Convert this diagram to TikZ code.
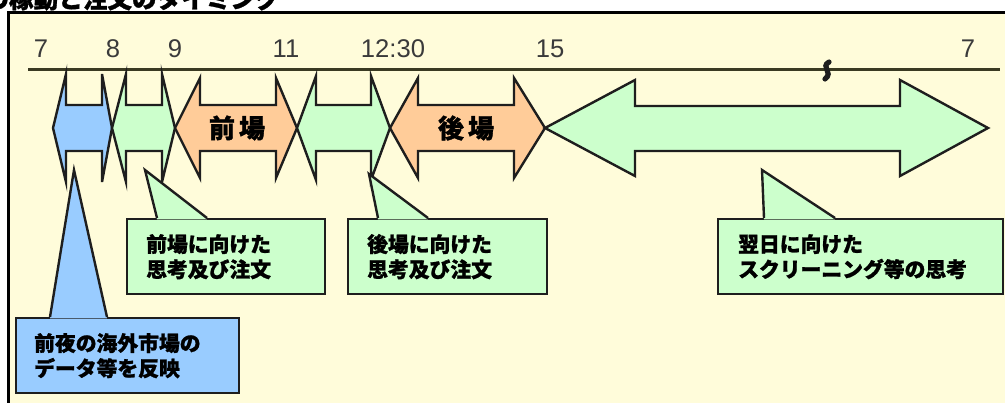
\documentclass[tikz,border=0pt]{standalone}
\usepackage{fontspec}
\setmainfont{Liberation Sans}
\newfontfamily\jpfont{Noto Sans CJK JP}[BoldFeatures={FakeBold=1.2}]
\usepackage{tikz}
\usetikzlibrary{positioning, calc}

\definecolor{bgclr}{HTML}{FFFCDA}
\definecolor{lineclr}{HTML}{1E1E1E}
\definecolor{axisclr}{HTML}{3A3A22}
\definecolor{hourclr}{HTML}{3A3A3A}
\definecolor{skyblue}{HTML}{99CCFF}
\definecolor{mint}{HTML}{CCFFCC}
\definecolor{peach}{HTML}{FFCC99}

\begin{document}
\begin{tikzpicture}[x=0.5pt, y=-0.5pt,
  outl/.style={draw=lineclr, line width=1.2pt, line join=miter},
  callbox/.style={outl, rectangle, anchor=north west, inner ysep=0pt, minimum height=37.5pt, align=left, font=\jpfont\bfseries\fontsize{10.4}{12.6}\selectfont},
  hour/.style={anchor=base, inner sep=0pt, text=hourclr, font=\fontsize{12.8}{14}\selectfont},
  session/.style={font=\jpfont\bfseries\fontsize{13}{15}\selectfont}]
\useasboundingbox (0,0) rectangle (1005,402);

% Frame and title
\draw[fill=bgclr, draw=black, line width=1.5pt] (8,12) rectangle (1020,420);
\node[anchor=base west, inner sep=0pt, font=\jpfont\bfseries\fontsize{12.3}{14}\selectfont] (title) at (-16,8) {の稼動と注文のタイミング};

% Time axis
\draw[line width=1.5pt, draw=axisclr] (28,69) -- (1000,69);
\draw[line width=2.6pt, draw=lineclr, line cap=round] (829,62) .. controls (820,67) and (834,72) .. (825,79);
\node[hour] (h7) at (41,57) {7};
\node[hour] (h8) at (113,57) {8};
\node[hour] (h9) at (175,57) {9};
\node[hour] (h11) at (286,57) {11};
\node[hour] (h1230) at (393,57) {12:30};
\node[hour] (h15) at (550,57) {15};
\node[hour] (h7next) at (968,57) {7};

% Double arrows
\draw[outl, fill=skyblue] (53,128) -- (66,74) -- (66,105) -- (102,105) -- (102,74) -- (112,128) -- (102,182) -- (102,151) -- (66,151) -- (66,182) -- cycle;
\draw[outl, fill=mint] (112,128) -- (126,74) -- (126,105) -- (162,105) -- (162,74) -- (175,128) -- (162,182) -- (162,151) -- (126,151) -- (126,182) -- cycle;
\draw[outl, fill=peach] (175,128) -- (200,78) -- (200,105) -- (276,105) -- (276,78) -- (297,128) -- (276,178) -- (276,151) -- (200,151) -- (200,178) -- cycle;
\draw[outl, fill=mint] (297,128) -- (316,76) -- (316,105) -- (371,105) -- (371,76) -- (390,128) -- (371,180) -- (371,151) -- (316,151) -- (316,180) -- cycle;
\draw[outl, fill=peach] (390,128) -- (418,78) -- (418,105) -- (514,105) -- (514,78) -- (545,128) -- (514,178) -- (514,151) -- (418,151) -- (418,178) -- cycle;
\draw[outl, fill=mint] (545,128) -- (635,80) -- (635,106) -- (900,106) -- (900,80) -- (988,128) -- (900,176) -- (900,151) -- (635,151) -- (635,176) -- cycle;
\node[session] (zenba) at (237,128) {前\hspace{2pt}場};
\node[session] (goba) at (466,128) {後\hspace{2pt}場};

% Callouts
\node[callbox, fill=skyblue, inner xsep=9pt, text width=93.5pt] (night) at (15,317) {前夜の海外市場の\\データ等を反映};
\fill[skyblue] ([shift={(35,1.4)}]night.north west) -- (74,170) -- ([shift={(92,1.4)}]night.north west) -- cycle;
\draw[outl] ([shift={(35,0)}]night.north west) -- (74,170) -- ([shift={(92,0)}]night.north west);

\node[callbox, fill=mint, inner xsep=9.5pt, text width=80pt] (prepam) at (126,218) {前場に向けた\\思考及び注文};
\fill[mint] ([shift={(31,1.4)}]prepam.north west) -- (145,170) -- ([shift={(81,1.4)}]prepam.north west) -- cycle;
\draw[outl] ([shift={(31,0)}]prepam.north west) -- (145,170) -- ([shift={(81,0)}]prepam.north west);

\node[callbox, fill=mint, inner xsep=9.5pt, text width=80.5pt] (preppm) at (347,218) {後場に向けた\\思考及び注文};
\fill[mint] ([shift={(31,1.4)}]preppm.north west) -- (369,174) -- ([shift={(81,1.4)}]preppm.north west) -- cycle;
\draw[outl] ([shift={(31,0)}]preppm.north west) -- (369,174) -- ([shift={(81,0)}]preppm.north west);

\node[callbox, fill=mint, inner xsep=10pt, text width=122.5pt] (nextday) at (717,218) {翌日に向けた\\スクリーニング等の思考};
\fill[mint] ([shift={(47,1.4)}]nextday.north west) -- (762,170) -- ([shift={(118,1.4)}]nextday.north west) -- cycle;
\draw[outl] ([shift={(47,0)}]nextday.north west) -- (762,170) -- ([shift={(118,0)}]nextday.north west);
\end{tikzpicture}
\end{document}
